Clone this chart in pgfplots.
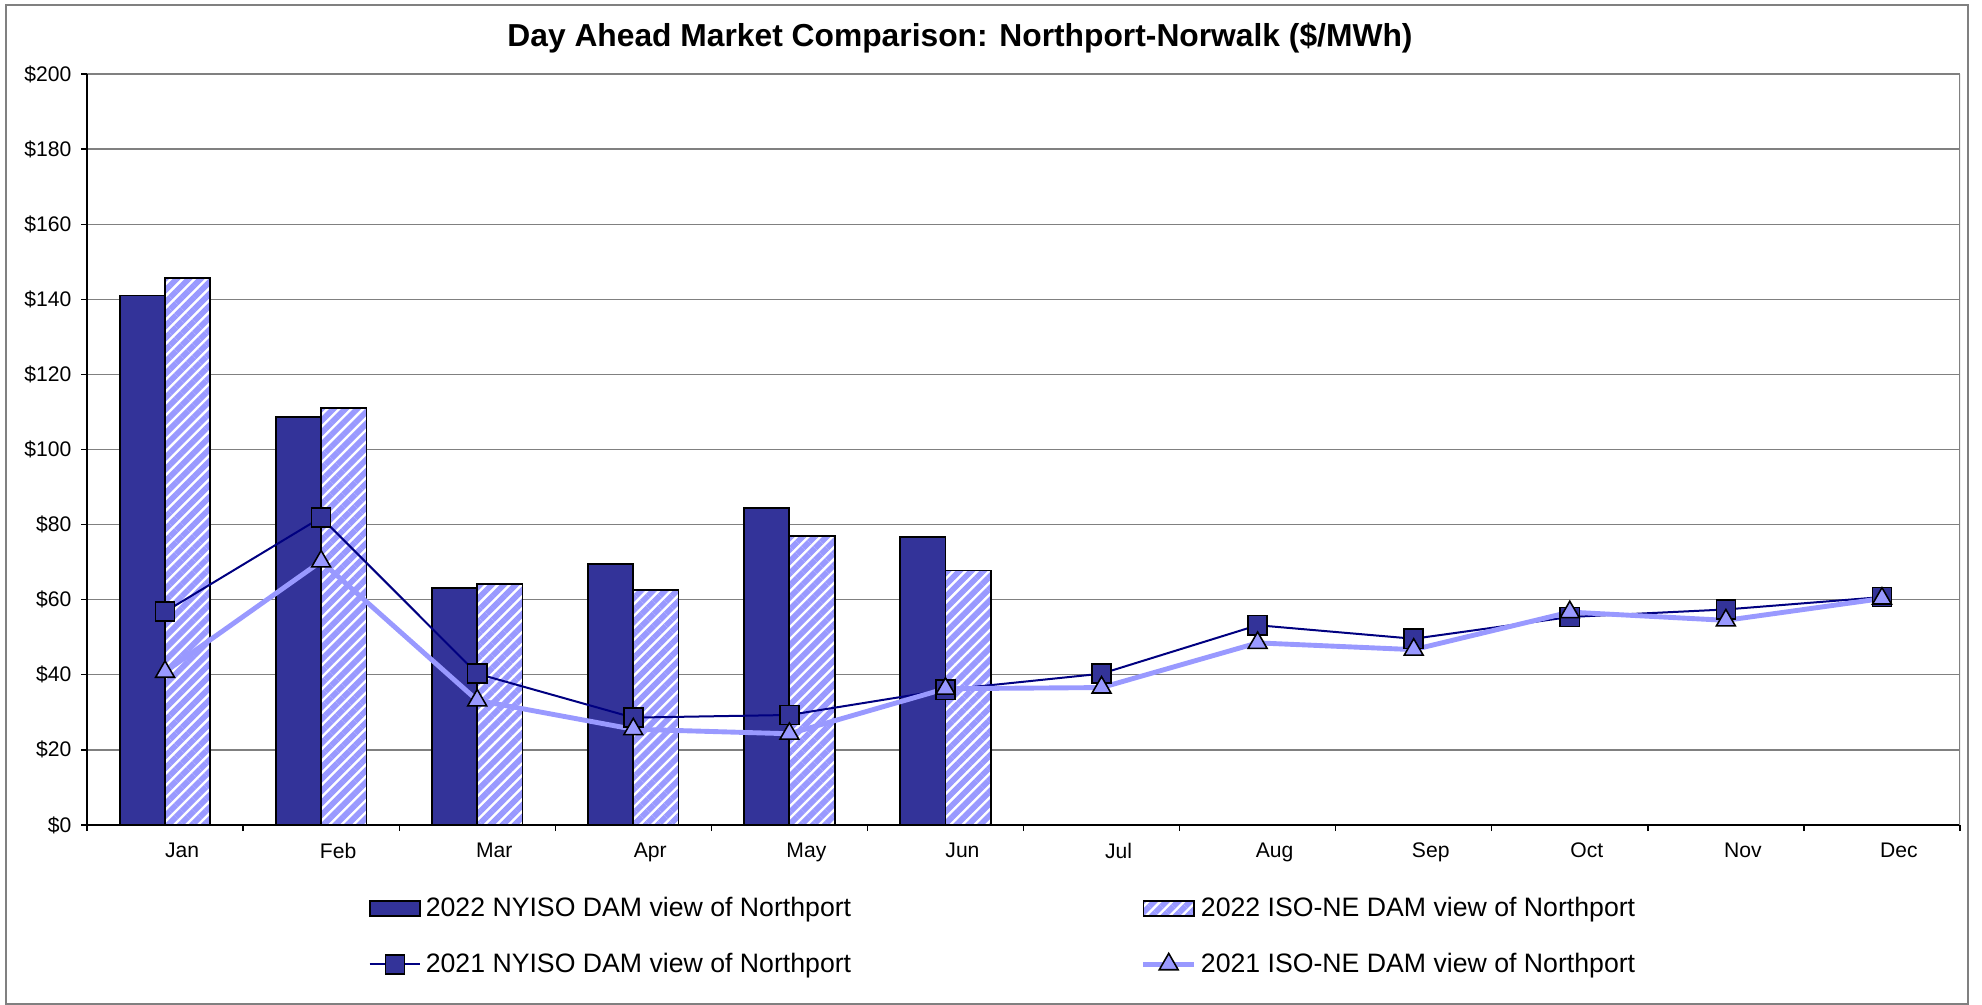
\documentclass[border=0pt]{standalone}
\usepackage{fontspec}
\setmainfont{Liberation Sans}
\usepackage{pgfplots}
\pgfplotsset{compat=1.18}
\usetikzlibrary{patterns.meta}

\definecolor{nydark}{HTML}{333399}
\definecolor{nelight}{HTML}{9999FF}
\definecolor{navyline}{HTML}{000080}

\pgfplotsset{
  barleg/.style={legend image code/.code={\draw[##1] (0pt,-3.4pt) rectangle (22.8pt,3.4pt);}},
  lineleg/.style={legend image code/.code={\draw[mark repeat=2,mark phase=2,##1]
    plot coordinates {(0pt,0pt) (11.4pt,0pt) (22.8pt,0pt)};}},
}

\begin{document}
\begin{tikzpicture}
\useasboundingbox (-39.15pt,-81pt) rectangle (852.75pt,371.25pt);
\draw[gray, line width=0.9pt] (-36.45pt,-80.55pt) rectangle (846.45pt,369pt);
\begin{axis}[
  at={(0pt,0pt)}, anchor=south west,
  scale only axis, width=842.85pt, height=337.95pt,
  xmin=0.5, xmax=12.5, ymin=0, ymax=200,
  axis lines*=left,
  axis line style={black, line width=0.7pt},
  ytick={0,20,...,200},
  yticklabel={\$\pgfmathprintnumber{\tick}},
  /pgf/number format/assume math mode=true,
  ymajorgrids, grid style={gray, line width=0.6pt},
  xtick={1,...,12},
  xticklabels={Jan,Feb,Mar,Apr,May,Jun,Jul,Aug,Sep,Oct,Nov,Dec},
  minor xtick={0.5,1.5,...,12.5},
  tick align=outside, major tick length=2.7pt, minor tick length=2.7pt,
  major x tick style={draw=none},
  tick style={black, line width=0.6pt},
  tick label style={font=\fontsize{9.5}{11}\selectfont},
  yticklabel style={xshift=-0.8pt},
  xticklabel style={xshift=7.65pt, yshift=-1.8pt},
  legend columns=2,
  legend cell align=left,
  legend style={draw=none, fill=none, at={(0.1466,-0.084)}, anchor=north west,
    font=\fontsize{12}{14}\selectfont, row sep=10.8pt,
    /tikz/column 2/.style={column sep=128.4pt}},
]
\addplot[ybar, bar width=0.29, bar shift=-0.145, draw=black, line width=0.8pt,
  fill=nydark, barleg]
  coordinates {(1,141.0) (2,108.7) (3,63.2) (4,69.5) (5,84.4) (6,76.7)};
\addlegendentry{2022 NYISO DAM view of Northport}
\addplot[ybar, bar width=0.29, bar shift=0.145, draw=black, line width=0.8pt,
  fill=white,
  postaction={pattern={Lines[angle=45,distance=3.8pt,line width=2.6pt]},
    pattern color=nelight, draw=black},
  barleg]
  coordinates {(1,145.6) (2,111.1) (3,64.1) (4,62.6) (5,76.9) (6,67.8)};
\addlegendentry{2022 ISO-NE DAM view of Northport}
\addplot[navyline, line width=0.9pt, mark=square*,
  mark size=4.3pt, mark options={fill=nydark, draw=black, line width=0.7pt},
  lineleg]
  coordinates {(1,56.8) (2,81.9) (3,40.3) (4,28.6) (5,29.3) (6,36.0)
    (7,40.3) (8,53.2) (9,49.6) (10,55.4) (11,57.4) (12,60.7)};
\addlegendentry{2021 NYISO DAM view of Northport}
\addplot[nelight, line width=2.2pt, mark=triangle*,
  mark size=4.9pt, mark options={fill=nelight, draw=black, line width=0.7pt},
  lineleg]
  coordinates {(1,40.8) (2,70.2) (3,33.2) (4,25.5) (5,24.3) (6,36.3)
    (7,36.6) (8,48.5) (9,46.7) (10,56.7) (11,54.5) (12,60.3)};
\addlegendentry{2021 ISO-NE DAM view of Northport}
\draw[gray, line width=0.6pt] (rel axis cs:1,0) -- (rel axis cs:1,1);
\end{axis}
\node[font=\fontsize{14.3}{17}\selectfont\bfseries] at (392.85pt,354.15pt)
  {Day Ahead Market Comparison: Northport-Norwalk (\$/MWh)};
\end{tikzpicture}
\end{document}
